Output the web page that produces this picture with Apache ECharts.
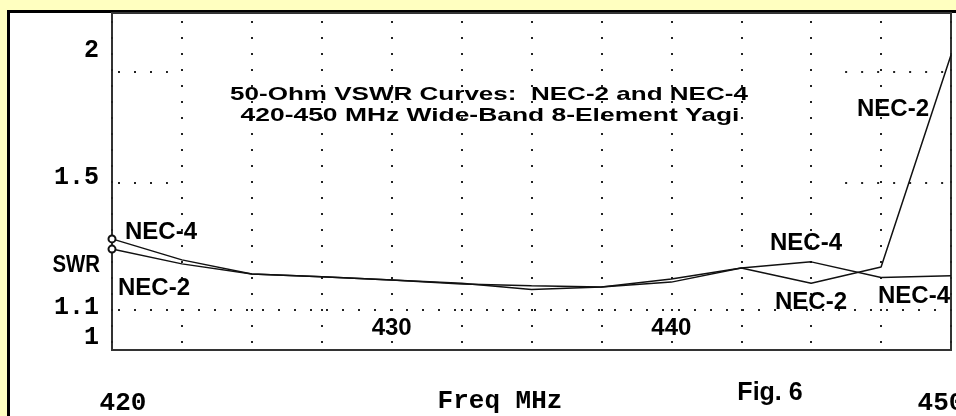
<!DOCTYPE html>
<html>
<head>
<meta charset="utf-8">
<title>50-Ohm VSWR Curves</title>
<script src="https://cdn.jsdelivr.net/npm/echarts@6/dist/echarts.min.js"></script>
<style>
html, body { margin: 0; padding: 0; background: #ffffc0; }
#main { width: 956px; height: 416px; }
</style>
</head>
<body>
<div id="main"></div>
<script>
// frequency points (MHz)
var freqs = [420, 422.5, 425, 427.5, 430, 432.5, 435, 437.5, 440, 442.5, 445, 447.5, 450];
// SWR
var swrNec4 = [1.307, 1.242, 1.200, 1.192, 1.183, 1.174, 1.156, 1.163, 1.186, 1.218, 1.236, 1.190, 1.195];
var swrNec2 = [1.275, 1.230, 1.200, 1.192, 1.183, 1.172, 1.167, 1.163, 1.177, 1.218, 1.174, 1.221, 2.093];
// y tick values and their labels
var swrTicks = [1, 1.1, 1.5, 2];
var swrTickLabels = ['1', '1.1', '1.5', '2'];
// x labels: two under the axis, two inside the plot
var freqLabelsBelow = [420, 450];
var freqLabelsInside = [430, 440];
// dotted guides: [swr, from MHz, to MHz]
var guideLines = [[1.1, 420, 450], [1.5, 420, 422], [1.5, 446, 450], [2, 420, 422], [2, 446, 450]];

// the vertical scale is reflection coefficient
function rho(s) { return (s - 1) / (s + 1); }

function toData(arr) {
    var out = [];
    for (var i = 0; i < freqs.length; i++) {
        out.push([freqs[i], rho(arr[i])]);
    }
    return out;
}

var myChart = echarts.init(document.getElementById('main'));
var monoFont = '"Liberation Mono", "DejaVu Sans Mono", monospace';
var sansFont = '"Liberation Sans", Arial, sans-serif';

function firstOnly(value, params) {
    return params.dataIndex === 0 ? 'emptyCircle' : 'none';
}

function txt(text, x, y, size, align, sx) {
    return {
        type: 'text', x: x, y: y, scaleX: sx || 1, z: 20,
        style: {
            text: text, fill: '#000', align: align, verticalAlign: 'middle',
            font: 'bold ' + size + 'px ' + sansFont
        }
    };
}

var option = {
    backgroundColor: '#ffffc0',
    animation: false,
    grid: {
        left: 112, right: 5, top: 13, bottom: 66,
        containLabel: false, outerBoundsMode: 'none',
        show: true, borderColor: '#333', borderWidth: 2,
        backgroundColor: 'transparent'
    },
    xAxis: [
        {
            type: 'value', min: 420, max: 450, interval: 2.5,
            axisLine: { show: false }, axisTick: { show: false },
            splitLine: { show: true, lineStyle: { color: '#222', width: 2, type: [2, 14], dashOffset: 8 } },
            axisLabel: {
                showMinLabel: true, showMaxLabel: true, margin: 40,
                formatter: function (v) {
                    if (freqLabelsBelow.indexOf(v) < 0) return '';
                    return (v === 420 ? '{a|' : '{b|') + v + '}';
                },
                rich: {
                    a: { fontFamily: monoFont, fontWeight: 'bold', fontSize: 26, color: '#000', padding: [0, 0, 0, 22] },
                    b: { fontFamily: monoFont, fontWeight: 'bold', fontSize: 26, color: '#000', padding: [0, 20, 0, 0] }
                }
            }
        },
        {
            type: 'value', min: 420, max: 450, interval: 2.5, position: 'bottom',
            axisLine: { show: false }, axisTick: { show: false }, splitLine: { show: false },
            axisLabel: {
                inside: true, margin: 10,
                fontFamily: sansFont, fontWeight: 'bold', fontSize: 24, color: '#000',
                formatter: function (v) {
                    return freqLabelsInside.indexOf(v) < 0 ? '' : String(v);
                }
            }
        }
    ],
    yAxis: {
        type: 'value', min: 0, max: 0.4036,
        axisLine: { show: false }, axisTick: { show: false }, splitLine: { show: false },
        axisLabel: {
            customValues: swrTicks.map(rho),
            margin: 13,
            formatter: function (v) {
                for (var i = 0; i < swrTicks.length; i++) {
                    if (Math.abs(rho(swrTicks[i]) - v) < 1e-6) return '{l' + i + '|' + swrTickLabels[i] + '}';
                }
                return '';
            },
            rich: {
                l0: { fontFamily: monoFont, fontWeight: 'bold', fontSize: 25, color: '#000', padding: [0, 0, 24, 0] },
                l1: { fontFamily: monoFont, fontWeight: 'bold', fontSize: 25, color: '#000', padding: [0, 0, 6, 0] },
                l2: { fontFamily: monoFont, fontWeight: 'bold', fontSize: 25, color: '#000', padding: [0, 0, 10, 0] },
                l3: { fontFamily: monoFont, fontWeight: 'bold', fontSize: 25, color: '#000', padding: [0, 0, 42, 0] }
            }
        }
    },
    graphic: [
        {
            type: 'rect', z: -100,
            shape: { x: 8.5, y: 11.5, width: 1000, height: 500 },
            style: { fill: '#fff', stroke: '#000', lineWidth: 3 }
        },
        txt('50-Ohm VSWR Curves:  NEC-2 and NEC-4', 489, 95, 19, 'center', 1.37),
        txt('420-450 MHz Wide-Band 8-Element Yagi', 490, 116, 19, 'center', 1.39),
        txt('NEC-4', 125, 232, 24, 'left'),
        txt('NEC-2', 118, 288, 24, 'left'),
        txt('NEC-4', 770, 243, 24, 'left'),
        txt('NEC-2', 775, 302, 24, 'left'),
        txt('NEC-4', 878, 296, 24, 'left'),
        txt('NEC-2', 857, 109, 24, 'left'),
        txt('SWR', 100, 265, 24, 'right', 0.85),
        txt('Fig. 6', 770, 393, 25, 'center'),
        {
            type: 'text', x: 500, y: 401, z: 20,
            style: {
                text: 'Freq MHz', fill: '#000', align: 'center', verticalAlign: 'middle',
                font: 'bold 26px ' + monoFont
            }
        }
    ],
    series: [
        {
            name: 'NEC-4', type: 'line', data: toData(swrNec4),
            symbol: firstOnly, symbolSize: 7, showSymbol: true,
            lineStyle: { color: '#111', width: 1.5 },
            itemStyle: { color: '#111', borderWidth: 1.2 },
            silent: true, z: 5,
            markLine: {
                silent: true, symbol: ['none', 'none'], label: { show: false },
                lineStyle: { color: '#222', width: 2, type: [2, 14], dashOffset: 10 },
                data: guideLines.map(function (g) {
                    return [{ coord: [g[1], rho(g[0])] }, { coord: [g[2], rho(g[0])] }];
                })
            }
        },
        {
            name: 'NEC-2', type: 'line', data: toData(swrNec2),
            symbol: firstOnly, symbolSize: 7, showSymbol: true,
            lineStyle: { color: '#111', width: 1.5 },
            itemStyle: { color: '#111', borderWidth: 1.2 },
            silent: true, z: 5
        }
    ]
};

myChart.setOption(option);
</script>
</body>
</html>
